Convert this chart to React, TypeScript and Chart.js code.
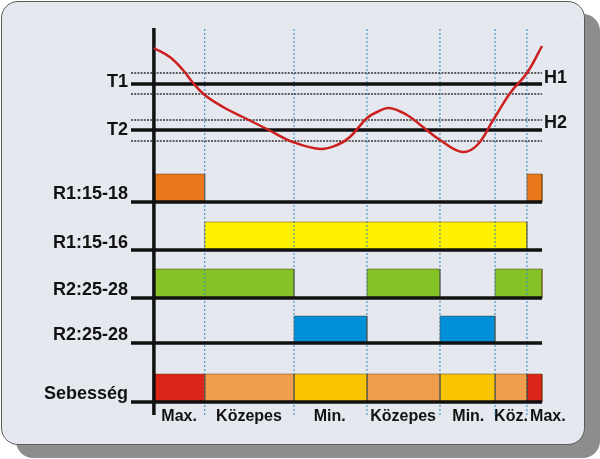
import React, { useEffect, useRef } from "react";
import { Chart, registerables } from "chart.js";

Chart.register(...registerables);

// ---- data (x = time units, y = level units) ----
const phaseBounds = [0, 13.1, 36.1, 54.9, 73.7, 87.9, 96.1, 100];
const phaseNames = ["Max.", "Közepes", "Min.", "Közepes", "Min.", "Köz.", "Max."];
const phaseLabelAt = [6.5, 24.5, 45.3, 64.2, 81.0, 92.0, 101.5];
const phaseLevel = ["max", "mid", "min", "mid", "min", "mid", "max"];

const curveTime = [0, 4.1, 7.5, 10.1, 13.1, 17.8, 22.9, 29.1, 35.8, 42.8, 47.2, 50.5, 54.9, 57.5, 60.6, 65.2, 69.3, 73.7, 79.4, 83.3, 87.4, 91.8, 96.1, 100];
const curveTemp = [367, 358, 345, 332, 320, 308, 298, 286, 273, 266, 270, 278, 297, 303, 307, 300, 288, 275, 263, 270, 295, 322, 342, 369];

const thresholdNames = ["T1", "T2"];
const thresholdValues = [331, 285];
const thresholdUpper = [342, 295];
const thresholdLower = [321, 274];
const thresholdLabelAt = [333, 285];
const hystNames = ["H1", "H2"];
const hystLabelAt = [337, 292];

const rowNames = ["R1:15-18", "R1:15-16", "R2:25-28", "R2:25-28", "Sebesség"];
const rowBase = [213, 165, 117, 72, 13];
const rowTop = [241, 193, 146, 99, 41];
const rowLabelAt = [221, 172, 125, 80, 21];

const r1_1518_on = [[0, 13.1], [96.1, 100]];
const r1_1516_on = [[13.1, 96.1]];
const r2_a_on = [[0, 36.1], [54.9, 73.7], [87.9, 100]];
const r2_b_on = [[36.1, 54.9], [73.7, 87.9]];

const xMin = -5.9;
const xMax = 107.2;
const yMin = 11;
const yMax = 387;
const axisBottom = 0;

// ---- styles ----
const rowColors = ["#e8781a", "#fff200", "#84c226", "#0090da"];
const levelColors: Record<string, string> = { max: "#dc2419", mid: "#f09d4c", min: "#f8c400" };

export default function App() {
  const ref = useRef<HTMLCanvasElement | null>(null);

  useEffect(() => {
    if (!ref.current) return;

    const line = (data: { x: number; y: number }[], color: string, width: number, dash: number[] = [], clip: any = undefined) => ({
      type: "line" as const,
      data,
      borderColor: color,
      borderWidth: width,
      borderDash: dash,
      pointRadius: 0,
      fill: false,
      tension: 0,
      borderCapStyle: "butt" as const,
      ...(clip !== undefined ? { clip } : {}),
    });

    const rect = (x0: number, x1: number, base: number, top: number, color: string) => ({
      type: "line" as const,
      data: [
        { x: x0, y: base },
        { x: x0, y: top },
        { x: x1, y: top },
        { x: x1, y: base },
      ],
      borderColor: "rgba(90,50,0,0.45)",
      borderWidth: 1,
      backgroundColor: color,
      pointRadius: 0,
      tension: 0,
      fill: { value: base },
    });

    const datasets: any[] = [];

    // curve (top)
    datasets.push({
      type: "line",
      data: curveTime.map((t, i) => ({ x: t, y: curveTemp[i] })),
      borderColor: "#cc1f1f",
      borderWidth: 2.5,
      pointRadius: 0,
      tension: 0.4,
      fill: false,
    });

    // vertical axis
    datasets.push(line([{ x: 0, y: axisBottom }, { x: 0, y: yMax }], "#111", 3.5, [], false));

    // thresholds
    thresholdValues.forEach((v, i) => {
      datasets.push(line([{ x: xMin, y: v }, { x: 100, y: v }], "#111", 3.5));
      datasets.push(line([{ x: xMin, y: thresholdUpper[i] }, { x: 100, y: thresholdUpper[i] }], "#333", 1.3, [2, 1.2]));
      datasets.push(line([{ x: xMin, y: thresholdLower[i] }, { x: 100, y: thresholdLower[i] }], "#333", 1.3, [2, 1.2]));
    });

    // row baselines
    rowBase.forEach((b) => {
      datasets.push(line([{ x: xMin, y: b }, { x: 100, y: b }], "#111", 3.5));
    });

    // phase boundaries (dotted blue)
    phaseBounds.slice(1, -1).forEach((t) => {
      datasets.push(line([{ x: t, y: axisBottom }, { x: t, y: yMax }], "#2b86c2", 1, [2, 2], false));
    });

    // bars
    const rowsOn = [r1_1518_on, r1_1516_on, r2_a_on, r2_b_on];
    rowsOn.forEach((intervals, r) => {
      intervals.forEach(([a, b]) => datasets.push(rect(a, b, rowBase[r], rowTop[r], rowColors[r])));
    });
    phaseLevel.forEach((lvl, i) => {
      datasets.push(rect(phaseBounds[i], phaseBounds[i + 1], rowBase[4], rowTop[4], levelColors[lvl]));
    });

    const leftTicks = [...thresholdLabelAt, ...rowLabelAt];
    const leftNames = [...thresholdNames, ...rowNames];

    const font = { family: "'Liberation Sans', Arial, sans-serif", weight: "bold" as const, size: 18 };
    const noGrid = { display: false, drawTicks: false, tickLength: 0 };

    const chart = new Chart(ref.current, {
      type: "line",
      data: { datasets },
      options: {
        responsive: false,
        animation: false,
        layout: { padding: { top: 28, left: 0, right: 0, bottom: 0 } },
        plugins: { legend: { display: false }, tooltip: { enabled: false } },
        elements: { point: { radius: 0 } },
        scales: {
          x: {
            type: "linear",
            min: xMin,
            max: xMax,
            grid: noGrid,
            border: { display: false },
            afterBuildTicks: (a: any) => {
              a.ticks = phaseLabelAt.map((v) => ({ value: v }));
            },
            afterFit: (a: any) => {
              a.height = 55;
            },
            ticks: {
              autoSkip: false,
              maxRotation: 0,
              minRotation: 0,
              padding: 3,
              color: "#111",
              font: { ...font, size: 16 },
              callback: (_v: any, i: number) => phaseNames[i],
            },
          },
          y: {
            type: "linear",
            position: "left",
            min: yMin,
            max: yMax,
            grid: noGrid,
            border: { display: false },
            afterBuildTicks: (a: any) => {
              a.ticks = leftTicks.map((v) => ({ value: v }));
            },
            afterFit: (a: any) => {
              a.width = 131;
            },
            ticks: {
              autoSkip: false,
              padding: 3,
              color: "#111",
              font,
              callback: (_v: any, i: number) => leftNames[i],
            },
          },
          y2: {
            type: "linear",
            position: "right",
            min: yMin,
            max: yMax,
            grid: noGrid,
            border: { display: false },
            afterBuildTicks: (a: any) => {
              a.ticks = hystLabelAt.map((v) => ({ value: v }));
            },
            afterFit: (a: any) => {
              a.width = 30;
            },
            ticks: {
              autoSkip: false,
              mirror: true,
              padding: -3,
              color: "#111",
              font,
              callback: (_v: any, i: number) => hystNames[i],
            },
          },
        },
      },
    } as any);

    return () => chart.destroy();
  }, []);

  return (
    <div style={{ position: "fixed", left: 0, top: 0, width: 600, height: 459, overflow: "hidden" }}>
      <div
        style={{
          position: "absolute",
          left: 16,
          top: 14,
          width: 584,
          height: 444,
          borderRadius: 17,
          background: "#8d8d8d",
        }}
      />
      <div
        style={{
          position: "absolute",
          left: 1,
          top: 1,
          width: 582,
          height: 442,
          borderRadius: 17,
          background: "#e5e9ef",
          border: "1px solid #5a5a5a",
        }}
      />
      <canvas ref={ref} width={600} height={459} style={{ position: "absolute", left: 0, top: 0, width: 600, height: 459 }} />
    </div>
  );
}
